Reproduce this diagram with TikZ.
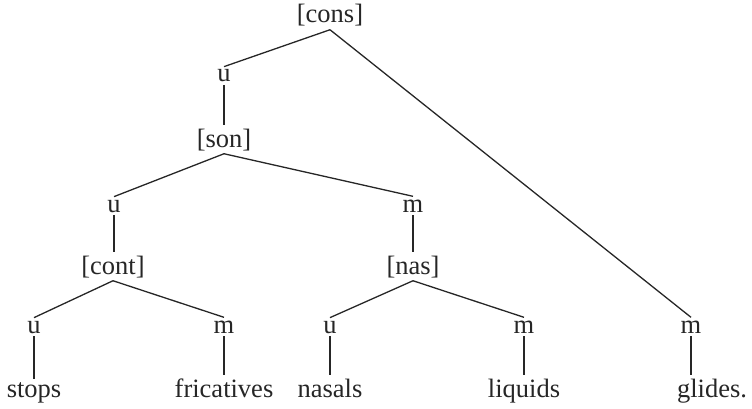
\documentclass[tikz,border=0pt]{standalone}
\usepackage{fontspec}
\setmainfont{Liberation Serif}
\begin{document}
\begin{tikzpicture}[x=1pt,y=-1pt,
  lab/.style={anchor=base,inner sep=3pt,font=\fontsize{26.5}{30}\selectfont,text=black!85},
  edge/.style={draw=black!85,line width=1.3pt}]
\useasboundingbox (0,0) rectangle (752,409);
\node[lab] (cons) at (330,23) {[cons]};
\node[lab] (u1) at (224,82) {u};
\node[lab] (son) at (224,147) {[son]};
\node[lab] (u2) at (114,212) {u};
\node[lab] (m2) at (413,212) {m};
\node[lab] (cont) at (113,274) {[cont]};
\node[lab] (nas) at (413,274) {[nas]};
\node[lab] (u3) at (34,333) {u};
\node[lab] (m3) at (224,333) {m};
\node[lab] (u4) at (330,333) {u};
\node[lab] (m4) at (524,333) {m};
\node[lab] (m5) at (691,333) {m};
\node[lab] (stops) at (34,397) {stops};
\node[lab] (fric) at (224,397) {fricatives};
\node[lab] (nasals) at (330,397) {nasals};
\node[lab] (liq) at (524,397) {liquids};
\node[lab] (glides) at (712,397) {glides.};
\path[edge] (cons.south) -- (u1.north);
\path[edge] (cons.south) -- (m5.north);
\path[edge] (u1.south) -- (u1.south |- son.north);
\path[edge] (son.south) -- (u2.north);
\path[edge] (son.south) -- (m2.north);
\path[edge] (u2.south) -- (u2.south |- cont.north);
\path[edge] (m2.south) -- (m2.south |- nas.north);
\path[edge] (cont.south) -- (u3.north);
\path[edge] (cont.south) -- (m3.north);
\path[edge] (nas.south) -- (u4.north);
\path[edge] (nas.south) -- (m4.north);
\path[edge] (u3.south) -- (u3.south |- stops.north);
\path[edge] (m3.south) -- (m3.south |- fric.north);
\path[edge] (u4.south) -- (u4.south |- nasals.north);
\path[edge] (m4.south) -- (m4.south |- liq.north);
\path[edge] (m5.south) -- (m5.south |- glides.north);
\end{tikzpicture}
\end{document}
